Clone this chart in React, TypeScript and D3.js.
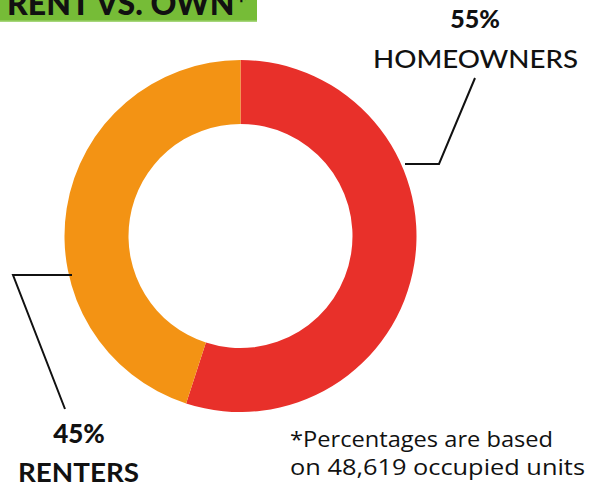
import React from 'react'
import * as d3 from 'd3'

const categories = ['HOMEOWNERS', 'RENTERS']
const shares = [55, 45]
const colors = ['#e8302a', '#f39314']
const title = 'RENT VS. OWN*'
const footnote = ['*Percentages are based', 'on 48,619 occupied units']
const footnoteWidths = [263, 295]

const W = 592
const H = 489
const cx = 240.5
const cy = 236
const outerR = 176
const innerR = 112

export default function App() {
    const pie = d3.pie<number>().sort(null).value(d => d)(shares)
    const arc = d3.arc<d3.PieArcDatum<number>>().innerRadius(innerR).outerRadius(outerR)
    const font = 'Lato, "Open Sans", sans-serif'

    return (
        <svg width={W} height={H} style={{ position: 'absolute', left: 0, top: 0 }}>
            {/* title banner, cut at the top like the original */}
            <rect x={0} y={0} width={257} height={22} fill="#76bc37" />
            <rect x={0} y={20.5} width={257} height={1.5} fill="#a5d67a" />
            <text x={248} y={15} textAnchor="end" fontFamily={font} fontWeight={900} fontSize={32} fill="#111">
                {title}
            </text>

            <g transform={`translate(${cx}, ${cy})`}>
                {pie.map((slice, i) => (
                    <path key={i} d={arc(slice) || ''} fill={colors[i]} />
                ))}
            </g>

            {/* leader lines */}
            <polyline points="405,164 439,164 475,78" fill="none" stroke="#111" strokeWidth={2} />
            <polyline points="72,275 13,275 65,409" fill="none" stroke="#111" strokeWidth={2} />

            {/* labels */}
            <text x={475} y={28} textAnchor="middle" fontFamily={font} fontWeight={900} fontSize={25} fill="#111">
                {shares[0]}%
            </text>
            <text x={373} y={68} textLength={205} lengthAdjust="spacingAndGlyphs" fontFamily={font} fontWeight={500} fontSize={25} fill="#111">
                {categories[0]}
            </text>
            <text x={79} y={443} textAnchor="middle" fontFamily={font} fontWeight={900} fontSize={26} fill="#111">
                {shares[1]}%
            </text>
            <text x={18} y={482} textLength={121} lengthAdjust="spacingAndGlyphs" fontFamily={font} fontWeight={700} fontSize={26} fill="#111">
                {categories[1]}
            </text>

            {footnote.map((line, i) => (
                <text key={i} x={290} y={447 + i * 28} textLength={footnoteWidths[i]} lengthAdjust="spacingAndGlyphs"
                    fontFamily='"Open Sans", sans-serif' fontSize={21} fill="#111">
                    {line}
                </text>
            ))}
        </svg>
    )
}
